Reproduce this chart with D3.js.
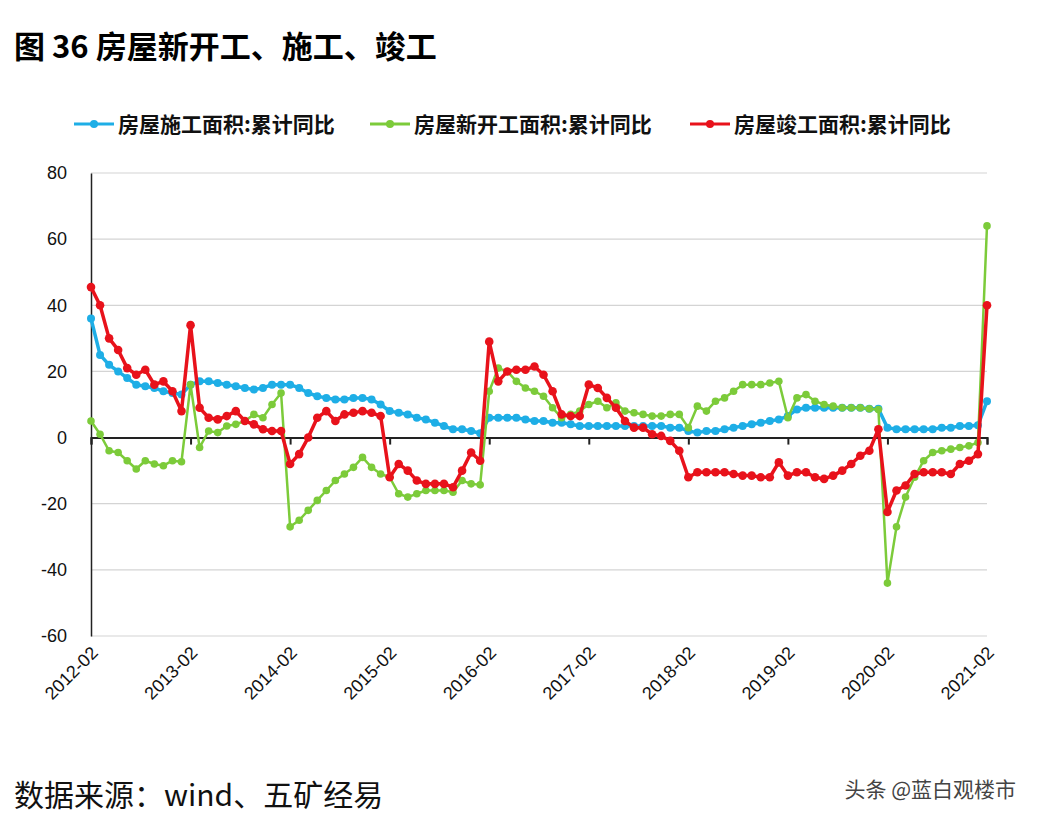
<!DOCTYPE html>
<html><head><meta charset="utf-8">
<script src="https://cdn.jsdelivr.net/npm/d3@7"></script>
<style>body{margin:0;background:#fff;font-family:"Noto Sans CJK SC",sans-serif}</style>
</head><body>
<script>
// monthly, Feb..Dec each year 2012-2020, then 2021-02
const years = [2012,2013,2014,2015,2016,2017,2018,2019,2020];
const construction = [
  36,25,22,20,18,16,15.5,15,14,13.5,13,
  16,17,17,16.5,16,15.5,15,14.5,15,16,16,
  16,15,13.5,12.5,12,11.5,11.5,12,12,11.5,10,
  8,7.5,7,6,5.5,4.5,3.5,2.5,2.5,2,1.3,
  6,6,6,6,5.5,5,5,4.5,4.5,4,3.5,
  3.5,3.5,3.5,3.5,3.5,3.5,3.5,3.5,3.5,3,3,
  2,1.5,2,2,2.5,3,3.5,4,4.5,5,5.5,
  6.5,8.5,9,9,9,9,9,9,9,8.7,8.7,
  3,2.5,2.5,2.5,2.5,2.5,3,3,3.5,3.5,3.7,
  11];
const newStarts = [
  5,1,-4,-4.5,-7,-9.5,-7,-8,-8.5,-7,-7.3,
  16,-3,2,1.5,3.5,4,5,7,6,10,13.5,
  -27,-25,-22,-19,-16,-13,-11,-9,-6,-9,-11,
  -12,-17,-18,-17,-16,-16,-16,-16.5,-13,-14,-14.3,
  14,21,20,17,15,14,12.5,9,6,7,8,
  10,11,9,10.5,8,7.5,7,6.5,6.5,7,7,
  3,9.5,8,11,12,14,16,16,16,16.5,17,
  6,12,13,11,10,9.5,9,9,9,8.7,8.5,
  -44,-27,-18,-12,-7,-4.5,-4,-3.5,-3,-2.5,-1.5,
  64];
const completed = [
  45.5,40,30,26.5,21,19,20.5,16,17,14,8,
  34,9,6,5.5,6.5,8,5,4,2.5,2,2,
  -8,-5,0,6,8,5,7,7.5,8,7.5,6.5,
  -12,-8,-10,-13,-14,-14,-14,-15,-10,-4.5,-7,
  29,17,20,20.5,20.5,21.5,19,14,7,6.5,6.5,
  16,15,12,9,5,3,3,1,0.5,-1,-4,
  -12,-10.5,-10.5,-10.5,-10.5,-11,-11.5,-11.5,-12,-12,-7.5,
  -11.5,-10.5,-10.5,-12,-12.5,-11.5,-10,-8,-5.5,-4,2.5,
  -22.5,-16,-14.5,-11,-10.5,-10.5,-10.5,-11,-8,-7,-5,
  40];
const months = [];
years.forEach(y => { for (let m = 2; m <= 12; m++) months.push(y + "-" + String(m).padStart(2, "0")); });
months.push("2021-02");
const tickLabels = months.filter(m => m.endsWith("-02"));
const yTicks = [80,60,40,20,0,-20,-40,-60];
const series = [
  {name: "房屋施工面积:累计同比", values: construction, color: "#1eaee6", w: 3.5, r: 4},
  {name: "房屋新开工面积:累计同比", values: newStarts, color: "#7ccb3a", w: 2.5, r: 3.8},
  {name: "房屋竣工面积:累计同比", values: completed, color: "#e8121b", w: 3.5, r: 4.3}
];

const W = 1040, H = 824;
const svg = d3.select("body").append("svg").attr("width", W).attr("height", H);
const x = d3.scalePoint().domain(months).range([91, 987]);
const y = d3.scaleLinear().domain([-60, 80]).range([636, 173]);

svg.append("text").attr("x", 14).attr("y", 58).attr("font-size", 31).attr("font-weight", "bold")
  .text("图 36  房屋新开工、施工、竣工");

// grid
svg.selectAll(".grid").data(yTicks.filter(d => d !== 0)).enter().append("line")
  .attr("x1", 91).attr("x2", 987).attr("y1", d => y(d)).attr("y2", d => y(d))
  .attr("stroke", "#d4d4d4").attr("stroke-width", 1.2);

svg.append("g").attr("transform", "translate(91,0)")
  .call(d3.axisLeft(y).tickValues(yTicks).tickSize(0).tickPadding(24).tickFormat(d => String(d)))
  .call(g => g.select(".domain").attr("stroke", "#222").attr("stroke-width", 1.5))
  .call(g => g.selectAll("text").attr("font-size", 18).attr("font-family", "Arial, Liberation Sans").attr("fill", "#111"));

svg.append("g").attr("transform", `translate(0,${y(0)})`)
  .call(d3.axisBottom(x).tickValues(tickLabels).tickSize(7).tickFormat(""))
  .call(g => g.select(".domain").attr("stroke", "#222").attr("stroke-width", 2))
  .call(g => g.selectAll("line").attr("stroke", "#222").attr("stroke-width", 2));

svg.selectAll(".xl").data(tickLabels).enter().append("text")
  .attr("transform", d => `translate(${x(d) + 8},${654}) rotate(-45)`)
  .attr("text-anchor", "end").attr("font-size", 18).attr("font-family", "Arial, Liberation Sans")
  .attr("fill", "#111").text(d => d);

const line = d3.line().x((d, i) => x(months[i])).y(d => y(d));
series.forEach(s => {
  const g = svg.append("g");
  g.append("path").attr("d", line(s.values)).attr("fill", "none")
    .attr("stroke", s.color).attr("stroke-width", s.w).attr("stroke-linejoin", "round");
  g.selectAll("circle").data(s.values).enter().append("circle")
    .attr("cx", (d, i) => x(months[i])).attr("cy", d => y(d)).attr("r", s.r).attr("fill", s.color);
});

// legend
const lx = [74, 370, 690];
series.forEach((s, i) => {
  const g = svg.append("g").attr("transform", `translate(${lx[i]},124)`);
  g.append("line").attr("x1", 0).attr("x2", 40).attr("stroke", s.color).attr("stroke-width", 3);
  g.append("circle").attr("cx", 20).attr("r", 4).attr("fill", s.color);
  g.append("text").attr("x", 44).attr("y", 8).attr("font-size", 21).attr("font-weight", "bold")
    .attr("fill", "#111").text(s.name);
});

svg.append("text").attr("x", 14).attr("y", 806).attr("font-size", 30).attr("fill", "#111")
  .text("数据来源：wind、五矿经易");
svg.append("text").attr("x", 1016).attr("y", 797).attr("text-anchor", "end").attr("font-size", 21)
  .attr("fill", "#444").text("头条 @蓝白观楼市");
</script>
</body></html>
